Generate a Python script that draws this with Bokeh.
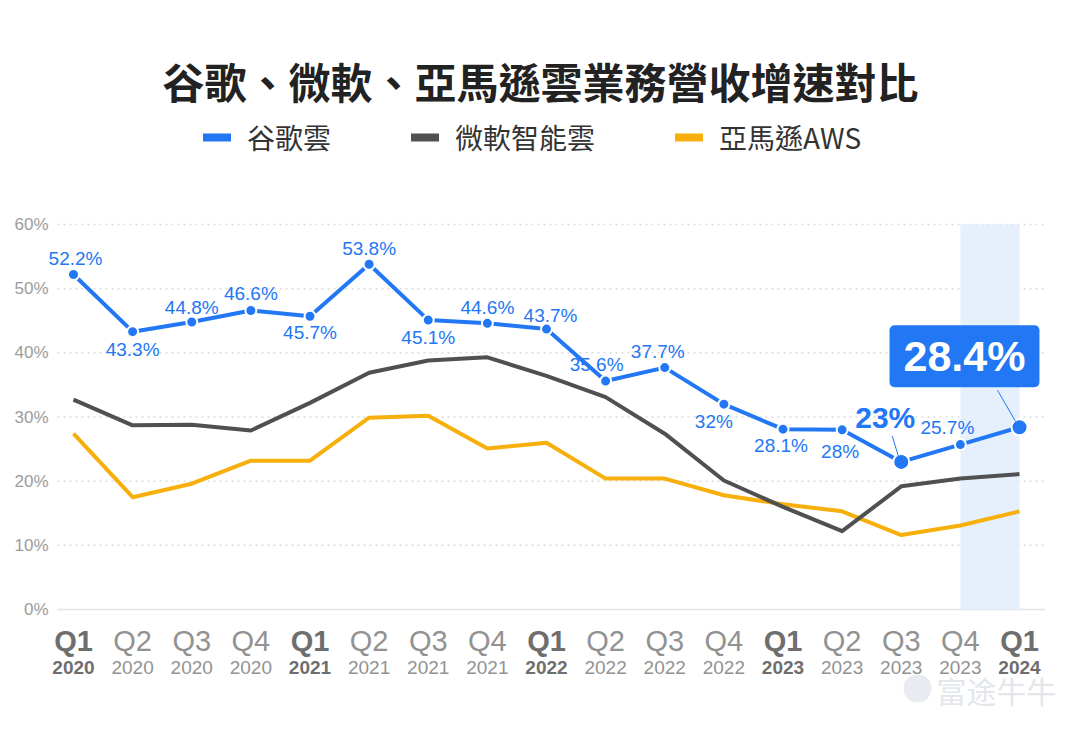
from bokeh.plotting import figure
from bokeh.models import Range1d, Legend, LegendItem, Label, LabelSet, ColumnDataSource
from bokeh.core.properties import value, field
from bokeh.embed import file_html
from bokeh.resources import INLINE

# ---------------- data ----------------
title_text = "谷歌、微軟、亞馬遜雲業務營收增速對比"
series_names = ["谷歌雲", "微軟智能雲", "亞馬遜AWS"]
quarters = ["Q1", "Q2", "Q3", "Q4"] * 4 + ["Q1"]
years = ["2020"] * 4 + ["2021"] * 4 + ["2022"] * 4 + ["2023"] * 4 + ["2024"]
google = [52.2, 43.3, 44.8, 46.6, 45.7, 53.8, 45.1, 44.6, 43.7, 35.6, 37.7, 32.0, 28.1, 28.0, 23.0, 25.7, 28.4]
microsoft = [32.7, 28.7, 28.8, 27.9, 32.2, 36.9, 38.8, 39.3, 36.4, 33.1, 27.4, 20.1, 16.0, 12.2, 19.2, 20.4, 21.1]
amazon = [27.4, 17.5, 19.6, 23.2, 23.2, 29.9, 30.2, 25.1, 26.0, 20.4, 20.4, 17.8, 16.4, 15.3, 11.6, 13.1, 15.3]
y_ticks = [0, 10, 20, 30, 40, 50, 60]
y_tick_labels = [f"{t}%" for t in y_ticks]
callout_idx = [14, 16]          # emphasised points (23%, 28.4%)
highlight_from = 15             # shaded band from this category to the last
watermark = "富途牛牛"

# ---------------- style / layout ----------------
BLUE, GRAY, YELLOW = "#2277F4", "#505050", "#F7AF0C"
W, H = 1080, 729
PX_CAT = 59.125          # px per category
PX_PCT = 385 / 60        # px per percentage point
ZERO_PX = 609            # screen y of 0%
X0_PX = 73               # screen x of first category
x_start = -X0_PX / PX_CAT
x_end = x_start + W / PX_CAT
y_start = -(H - ZERO_PX) / PX_PCT
y_end = y_start + H / PX_PCT
GRID_L, GRID_R = 57, 1045


def dx(px):
    return px / PX_CAT


def dy(px):  # screen px (down positive) -> data offset
    return -px / PX_PCT


def sx(px):
    return x_start + px / PX_CAT


def sy(py):
    return y_end - py / PX_PCT


n = len(quarters)
xs = list(range(n))

p = figure(width=W, height=H, x_range=Range1d(x_start, x_end), y_range=Range1d(y_start, y_end),
           output_backend="svg", toolbar_location=None, x_axis_location=None, y_axis_location=None,
           min_border_left=0, min_border_right=0, min_border_top=0, min_border_bottom=0)
p.outline_line_color = None
p.background_fill_color = "white"
p.border_fill_color = "white"
p.xgrid.visible = False
p.ygrid.visible = False

# value axis: gridlines + tick labels
k = len(y_ticks) - 1
p.segment(x0=[sx(GRID_L)] * k, x1=[sx(GRID_R)] * k, y0=y_ticks[1:], y1=y_ticks[1:],
          line_color="#dcdcdc", line_dash="2 4", line_width=1.5)
p.segment(x0=[sx(GRID_L)], x1=[sx(GRID_R)], y0=[y_ticks[0]], y1=[y_ticks[0]],
          line_color="#e3e3e3", line_width=1.5)
p.text([sx(48)] * len(y_ticks), y_ticks, text=y_tick_labels, text_font=value("Liberation Sans"),
       text_font_size="17px", text_color="#9c9c9c", text_align="right", text_baseline="middle")

# highlight band
p.quad(left=[highlight_from], right=[n - 1], bottom=[y_ticks[0]], top=[y_ticks[-1]],
       fill_color="#E6F0FD", line_color=None)

# lines
p.line(xs, amazon, line_color=YELLOW, line_width=4, line_join="round")
p.line(xs, microsoft, line_color=GRAY, line_width=4, line_join="round")
p.line(xs, google, line_color=BLUE, line_width=4, line_join="round")

small = [i for i in xs if i not in callout_idx]
p.scatter([xs[i] for i in small], [google[i] for i in small], size=11,
          fill_color=BLUE, line_color="white", line_width=2)
p.scatter([xs[i] for i in callout_idx], [google[i] for i in callout_idx], size=16,
          fill_color=BLUE, line_color="white", line_width=2)

# data labels (screen px shifts, down positive)
label_shift = [(2, -16), (0, 18), (0, -15), (0, -17), (0, 16), (0, -16), (0, 17), (0, -16), (4, -14),
               (-9, -17), (-7, -16), (-10, 17), (-2, 16), (-2, 22), (-16, -44), (-13, -17), (-55, -71)]
lab = ColumnDataSource(dict(
    x=[xs[i] + dx(label_shift[i][0]) for i in small],
    y=[google[i] + dy(label_shift[i][1]) for i in small],
    t=[f"{google[i]:g}%" for i in small]))
p.add_layout(LabelSet(x="x", y="y", text="t", source=lab, text_font=value("Liberation Sans"),
                      text_font_size="19px", text_color=BLUE, text_align="center",
                      text_baseline="middle"))

i23 = callout_idx[0]
p.add_layout(Label(x=xs[i23] + dx(label_shift[i23][0]), y=google[i23] + dy(label_shift[i23][1]),
                   text=f"{google[i23]:g}%", text_font="Liberation Sans", text_font_style="bold",
                   text_font_size="30px", text_color=BLUE, text_align="center", text_baseline="middle"))
p.segment(x0=[xs[i23] + dx(-9)], y0=[google[i23] + dy(-26)], x1=[xs[i23] + dx(-3)],
          y1=[google[i23] + dy(-6)], line_color=BLUE, line_width=1)

i28 = callout_idx[1]
p.add_layout(Label(x=xs[i28] + dx(label_shift[i28][0]), y=google[i28] + dy(label_shift[i28][1]),
                   text=f"{google[i28]:g}%", text_font="Liberation Sans", text_font_style="bold",
                   text_font_size="43px", text_color="white", text_align="center",
                   text_baseline="middle", background_fill_color=BLUE, border_radius=5,
                   padding=(14, 7)))
p.segment(x0=[xs[i28] + dx(-22)], y0=[google[i28] + dy(-37)], x1=[xs[i28] + dx(-4)],
          y1=[google[i28] + dy(-6)], line_color=BLUE, line_width=1)

# category labels
qsrc = ColumnDataSource(dict(
    x=xs, yq=[dy(31)] * n, yy=[dy(58)] * n, q=quarters, yr=years,
    st=["bold" if q == "Q1" else "normal" for q in quarters],
    col=["#6e6e6e" if q == "Q1" else "#929292" for q in quarters]))
p.add_layout(LabelSet(x="x", y="yq", text="q", source=qsrc, text_font=value("Liberation Sans"),
                      text_font_size="29px", text_font_style=field("st"), text_color=field("col"),
                      text_align="center", text_baseline="middle"))
p.add_layout(LabelSet(x="x", y="yy", text="yr", source=qsrc, text_font=value("Liberation Sans"),
                      text_font_size="19px", text_font_style=field("st"), text_color=field("col"),
                      text_align="center", text_baseline="middle"))

# title
p.text([sx(540)], [sy(80)], text=[title_text], text_font=value("Noto Sans CJK TC"),
       text_font_style="bold", text_font_size="42px", text_color="#222222",
       text_align="center", text_baseline="middle")

# watermark
p.scatter([sx(917)], [sy(688)], size=28, fill_color="#E8EBEF", line_color=None)
p.add_layout(Label(x=sx(996), y=sy(689), text=watermark, text_font="Noto Sans CJK SC",
                   text_font_size="30px", text_color="#E3E6EA", text_align="center",
                   text_baseline="middle"))

# legend (single-point lines: only the legend swatch is visible)
leg_rs = [p.line([xs[0]], [s[0]], line_color=c, line_width=8, line_cap="round")
          for c, s in zip((BLUE, GRAY, YELLOW), (google, microsoft, amazon))]
legend = Legend(items=[LegendItem(label=nm, renderers=[r]) for nm, r in zip(series_names, leg_rs)],
                orientation="horizontal", location=(203, 572),
                label_text_font="Noto Sans CJK TC", label_text_font_size="28px",
                label_text_color="#333333", glyph_width=28, glyph_height=30, label_height=30,
                label_standoff=16, spacing=80, padding=0, margin=0,
                border_line_color=None, background_fill_alpha=0)
p.add_layout(legend)

open("out.html", "w").write(file_html(p, INLINE))
